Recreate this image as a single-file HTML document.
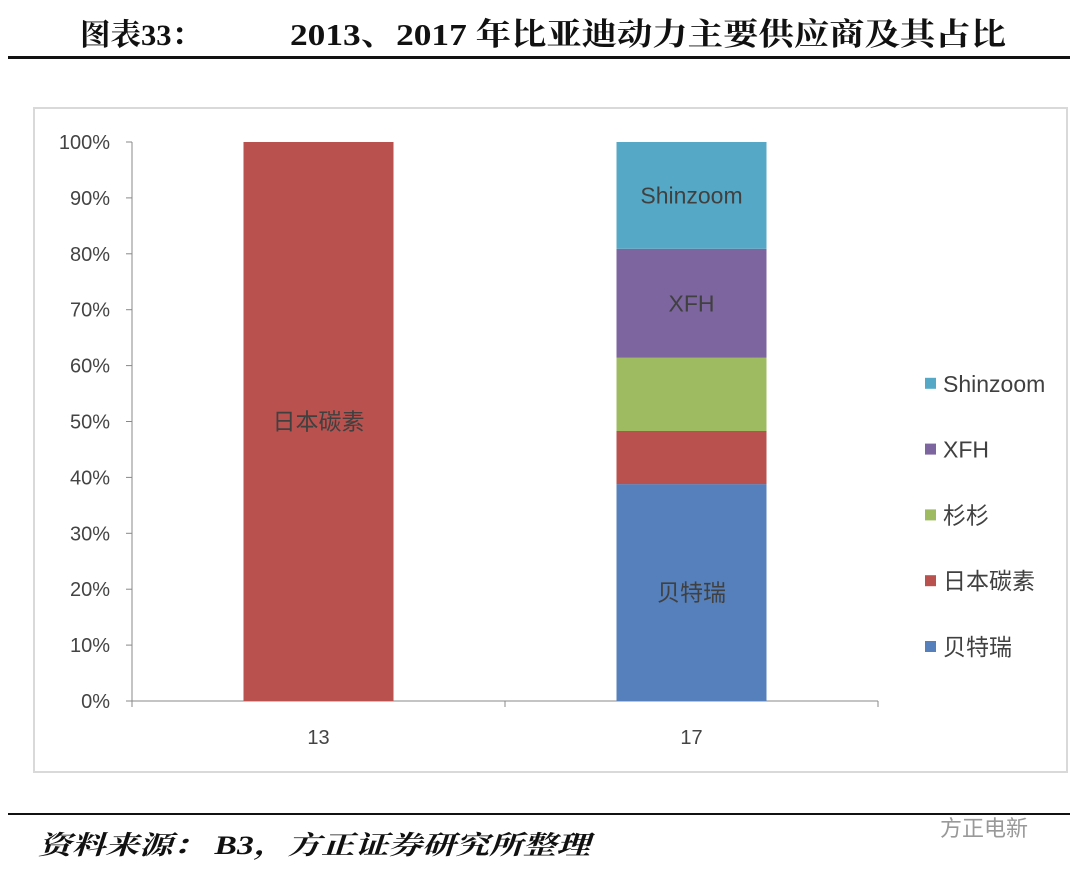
<!DOCTYPE html>
<html><head><meta charset="utf-8"><style>
body{margin:0;background:#fff;width:1080px;height:872px;overflow:hidden;font-family:"Liberation Sans","Noto Sans CJK SC",sans-serif}
</style></head><body>
<svg width="1080" height="872" xmlns="http://www.w3.org/2000/svg">
<text x="80" y="45" font-family="Liberation Serif,Noto Serif CJK SC,serif" font-size="30" font-weight="bold" fill="#111" textLength="122" lengthAdjust="spacingAndGlyphs">图表33：</text>
<text x="290" y="45" font-family="Liberation Serif,Noto Serif CJK SC,serif" font-size="31" font-weight="bold" fill="#111" textLength="716" lengthAdjust="spacingAndGlyphs">2013、2017 年比亚迪动力主要供应商及其占比</text>
<rect x="8" y="56" width="1062" height="3" fill="#111"/>
<rect x="34" y="108" width="1033" height="664" fill="#fff" stroke="#d9d9d9" stroke-width="2"/>
<g id="plot"></g>
<rect x="8" y="813" width="1062" height="2" fill="#111"/>
<text x="38" y="854" font-family="Liberation Serif,Noto Serif CJK SC,serif" font-size="26" font-style="italic" font-weight="bold" fill="#111" textLength="552" lengthAdjust="spacingAndGlyphs">资料来源：  B3，方正证券研究所整理</text>
<text x="940" y="836" font-size="22" fill="#999">方正电新</text>
</svg>
<script>
const categories=["13","17"];
const seriesNames=["贝特瑞","日本碳素","杉杉","XFH","Shinzoom"];
const seriesColors=["#5580bb","#b9514e","#9fbb62","#7d65a0","#56a9c6"];
const values13=[0,100,0,0,0];
const values17=[38.8,9.5,13.1,19.5,19.1];
const yTicks=[0,10,20,30,40,50,60,70,80,90,100];
const NS="http://www.w3.org/2000/svg";
const g=document.getElementById("plot");
const x0=132,x1=878,yb=701,yt=142;
const y=v=>yb-(v/100)*(yb-yt);
const band=(x1-x0)/categories.length;
function el(t,a,txt){const e=document.createElementNS(NS,t);for(const k in a)e.setAttribute(k,a[k]);if(txt!=null)e.textContent=txt;g.appendChild(e);return e;}
yTicks.forEach(t=>{
 const l=el("line",{x1:x0-6,x2:x0,y1:y(t),y2:y(t),stroke:"#888"});
 
 
 const tx=el("text",{x:x0-22,y:y(t)+7,"text-anchor":"end","font-size":"20",fill:"#444"},t+"%");
 
 
});
const ax=el("line",{x1:x0,x2:x0,y1:yt,y2:yb,stroke:"#888"});


const xa=el("line",{x1:x0,x2:x1,y1:yb,y2:yb,stroke:"#888"});


[0,1,2].forEach(i=>{const l=el("line",{x1:x0+i*band,x2:x0+i*band,y1:yb,y2:yb+6,stroke:"#888"});
 
 });
const all=[values13,values17];
categories.forEach((c,ci)=>{
 const cx=x0+band*(ci+0.5),bw=150;
 let acc=0;
 all[ci].forEach((v,si)=>{
  if(v<=0)return;
  const r=el("rect",{x:cx-bw/2,y:y(acc+v),width:bw,height:y(acc)-y(acc+v),fill:seriesColors[si]});
  
  
  if(v>=19){const t=el("text",{x:cx,y:(y(acc)+y(acc+v))/2+8,"text-anchor":"middle","font-size":"23",fill:"#404040"},seriesNames[si]);
   
   }
  acc+=v;
 });
 const t=el("text",{x:cx,y:744,"text-anchor":"middle","font-size":"20",fill:"#444"},c);
 
 
});
seriesNames.forEach((n,i)=>{
 const yy=647-i*65.8;
 const r=el("rect",{x:925,y:yy-6,width:11,height:11,fill:seriesColors[i]});
 
 
 const t=el("text",{x:943,y:yy+8,"font-size":"23",fill:"#404040"},n);
 
 
});
</script>
</body></html>
